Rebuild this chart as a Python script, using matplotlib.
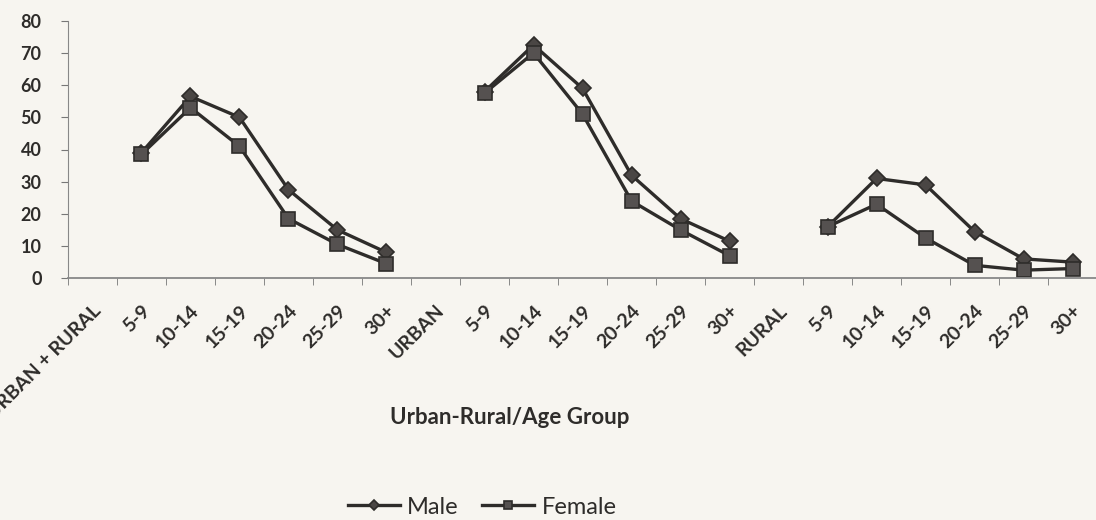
import numpy as np
import matplotlib
matplotlib.use("Agg")
import matplotlib.pyplot as plt

plt.rcParams['font.family'] = ['Lato', 'DejaVu Sans']

# categories along the x axis (group headers have no values)
categories = ['URBAN + RURAL', '5-9', '10-14', '15-19', '20-24', '25-29', '30+',
              'URBAN', '5-9', '10-14', '15-19', '20-24', '25-29', '30+',
              'RURAL', '5-9', '10-14', '15-19', '20-24', '25-29', '30+']

# percent economically active
male = [None, 39, 56.5, 50, 27.5, 15, 8,
        None, 58, 72.5, 59, 32, 18.5, 11.5,
        None, 16, 31, 29, 14.5, 6, 5]
female = [None, 38.5, 53, 41, 18.5, 10.5, 4.5,
          None, 57.5, 70, 51, 24, 15, 7,
          None, 16, 23, 12.5, 4, 2.5, 3]

y_ticks = [0, 10, 20, 30, 40, 50, 60, 70, 80]

ink = '#2e2c2a'
paper = '#f7f5f0'

fig = plt.figure(figsize=(10.96, 5.2), dpi=100, facecolor=paper)
ax = fig.add_axes([0.062, 0.465, 0.939, 0.495])
ax.set_facecolor(paper)

x = np.arange(len(categories))
male_arr = np.array([np.nan if v is None else v for v in male], dtype=float)
female_arr = np.array([np.nan if v is None else v for v in female], dtype=float)

ax.plot(x, male_arr, color=ink, lw=2.4, marker='D', ms=8,
        mfc='#4a4644', mec=ink, mew=1.2, label='Male')
ax.plot(x, female_arr, color=ink, lw=2.4, marker='s', ms=10,
        mfc='#555150', mec=ink, mew=1.2, label='Female')

ax.set_xlim(-0.5, len(categories) - 0.5)
ax.set_ylim(0, 80)
ax.set_yticks(y_ticks)
ax.set_yticklabels([str(v) for v in y_ticks], fontsize=13, fontweight='bold', color=ink)
ax.tick_params(axis='y', direction='out', length=5, color='#777777', pad=14)

ax.set_xticks(x)
ax.set_xticklabels(categories, rotation=45, ha='right', rotation_mode='anchor',
                   fontsize=14, fontweight='bold', color=ink)
ax.set_xticks(np.arange(-0.5, len(categories)), minor=True)
ax.tick_params(axis='x', which='major', length=0, pad=17)
ax.tick_params(axis='x', which='minor', direction='out', length=5, color='#777777')

for side in ['top', 'right']:
    ax.spines[side].set_visible(False)
ax.spines['left'].set_color('#888888')
ax.spines['bottom'].set_color('#888888')
ax.spines['bottom'].set_linewidth(1.3)

fig.text(0.465, 0.198, 'Urban-Rural/Age Group', ha='center', va='center',
         fontsize=16, fontweight='bold', color=ink)

fig.legend(loc='center', bbox_to_anchor=(0.44, 0.025), ncol=2, frameon=False,
           prop={'size': 17}, handlelength=2.2, columnspacing=1.0, handletextpad=0.3,
           markerscale=0.6, labelcolor=ink)

fig.savefig('out.png', dpi=100, facecolor=paper)
